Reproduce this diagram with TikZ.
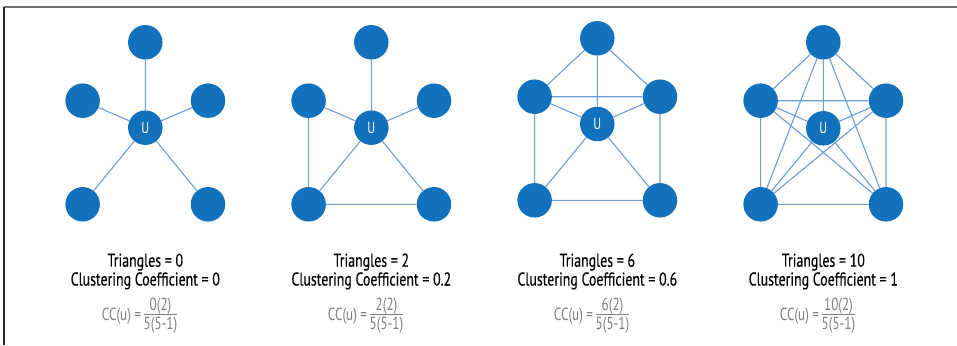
\documentclass[tikz,border=0pt]{standalone}
\usepackage{fontspec}
\setmainfont{PT Sans}[FakeStretch=0.75]
\newfontfamily\capfont{PT Sans}[FakeStretch=0.75, FakeBold=0.3]
\definecolor{nodeblue}{HTML}{1271BC}
\definecolor{edgeblue}{HTML}{6E9DD8}
\definecolor{formgray}{HTML}{7F7F7F}
\pgfdeclarelayer{bg}
\pgfsetlayers{bg,main}
\tikzset{
  vtx/.style={circle, fill=nodeblue, minimum size=34.5pt, inner sep=0pt},
  uvtx/.style={vtx, text=white, font=\fontsize{16}{16}\selectfont},
  edge/.style={draw=edgeblue, line width=1.1pt},
  caption/.style={font=\capfont\fontsize{18.5}{20}\selectfont, text=black, inner sep=0pt, anchor=base},
  formula/.style={font=\fontsize{17.5}{18}\selectfont, text=formgray, inner sep=0pt},
  fracbar/.style={draw=formgray, line width=0.9pt},
}
\newcommand{\mygraph}[5]{% #1 prefix, #2 cx, #3 top y, #4 side y, #5 U y ; bottoms at #4+103.6
  \node[vtx] (#1t) at (#2,#3) {};
  \node[vtx] (#1l) at (#2-62.7,#4) {};
  \node[vtx] (#1r) at (#2+62.7,#4) {};
  \node[uvtx] (#1u) at (#2,#5) {U};
  \node[vtx] (#1bl) at (#2-62.7,#4+103.6) {};
  \node[vtx] (#1br) at (#2+62.7,#4+103.6) {};
}
\newcommand{\mycaption}[4]{% #1 prefix, #2 cx, #3 triangles, #4 cc
  \node[caption] (#1cap1) at (#2,266.7) {Triangles = #3};
  \node[caption] (#1cap2) at (#2,285.5) {Clustering Coefficient = #4};
  \node[formula, anchor=base east] (#1cc) at (#2-4,320) {CC(u) =};
  \node[formula, anchor=base] (#1num) at (#2+15.2,310.5) {#3(2)};
  \node[formula, anchor=base] (#1den) at (#2+15.2,329) {5(5-1)};
  \draw[fracbar] (#1den.west |- 0,314) -- (#1den.east |- 0,314);
}
\begin{document}
\begin{tikzpicture}[x=1pt,y=-1pt]
\useasboundingbox (0,0) rectangle (957,345);
\begin{pgfonlayer}{bg}
\fill[white] (0,0) rectangle (957,345);
\end{pgfonlayer}
\draw[draw=black!55, line width=1.6pt] (4,7) -- (957,7);
\draw[draw=black!85, line width=1.6pt] (4,7) -- (4,345);

% graph 1
\mygraph{a}{145.3}{42.3}{100.7}{127.7}
\begin{pgfonlayer}{bg}
\draw[edge] (au) -- (at) (au) -- (al) (au) -- (ar) (au) -- (abl) (au) -- (abr);
\end{pgfonlayer}
\mycaption{a}{145.3}{0}{0}

% graph 2
\mygraph{b}{371.3}{42.3}{100.7}{127.7}
\begin{pgfonlayer}{bg}
\draw[edge] (bu) -- (bt) (bu) -- (bl) (bu) -- (br) (bu) -- (bbl) (bu) -- (bbr)
  (bl) -- (bbl) (bbl) -- (bbr);
\end{pgfonlayer}
\mycaption{b}{371.3}{2}{0.2}

% graph 3
\mygraph{c}{597.3}{38.3}{96.7}{124}
\begin{pgfonlayer}{bg}
\draw[edge] (cu) -- (ct) (cu) -- (cl) (cu) -- (cr) (cu) -- (cbl) (cu) -- (cbr)
  (ct) -- (cl) (ct) -- (cr) (cl) -- (cr) (cl) -- (cbl) (cr) -- (cbr) (cbl) -- (cbr);
\end{pgfonlayer}
\mycaption{c}{597.3}{6}{0.6}

% graph 4
\mygraph{d}{823.3}{42.3}{100.7}{128.3}
\begin{pgfonlayer}{bg}
\draw[edge] (du) -- (dt) (du) -- (dl) (du) -- (dr) (du) -- (dbl) (du) -- (dbr)
  (dt) -- (dl) (dt) -- (dr) (dt) -- (dbl) (dt) -- (dbr)
  (dl) -- (dr) (dl) -- (dbl) (dl) -- (dbr)
  (dr) -- (dbl) (dr) -- (dbr) (dbl) -- (dbr);
\end{pgfonlayer}
\mycaption{d}{823.3}{10}{1}
\end{tikzpicture}
\end{document}
